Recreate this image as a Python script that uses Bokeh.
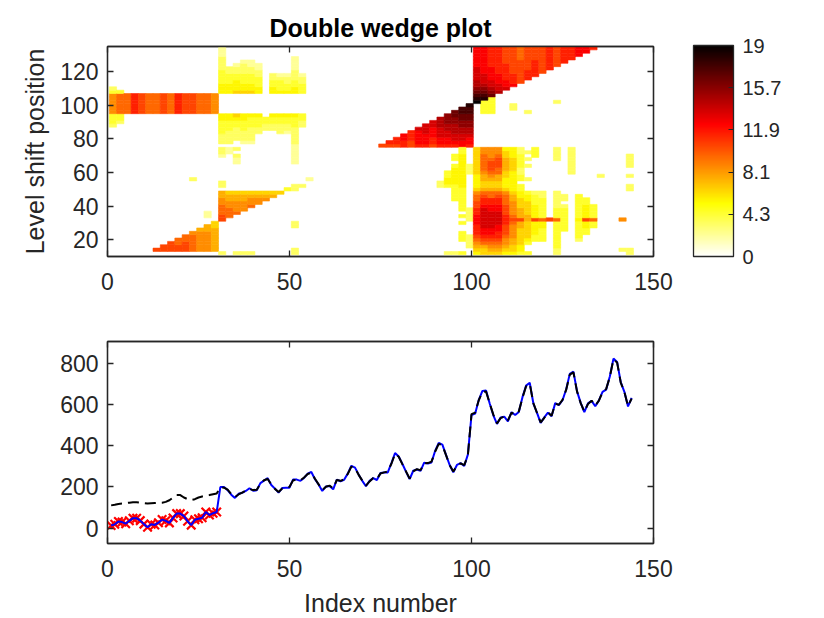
from bokeh.plotting import figure
from bokeh.models import (ColumnDataSource, LinearColorMapper, ColorBar, FixedTicker,
                          LinearAxis, Range1d)
from bokeh.layouts import column
from bokeh.embed import file_html
from bokeh.resources import INLINE

# ---------------- data ----------------
index_ticks = [0, 50, 100, 150]
shift_ticks = [20, 40, 60, 80, 100, 120]
level_ticks = [0, 200, 400, 600, 800]
cbar_tick_pos = [0, 3.8, 7.6, 11.4, 15.2, 19]
cbar_tick_labels = ["0", "4.3", "8.1", "11.9", "15.7", "19"]

index_number = list(range(1, 145))

y_obs = [12, 18, 32, 29, 21, 35, 48, 48, 36, 19, 4, 18,
         15, 26, 41, 35, 25, 49, 70, 70, 58, 33, 14, 40,
         45, 50, 78, 63, 72, 78, 199, 199, 184, 162, 146, 166,
         171, 180, 193, 181, 183, 218, 230, 242, 209, 191, 172, 194,
         196, 196, 236, 235, 229, 243, 264, 272, 237, 211, 180, 201,
         204, 188, 235, 227, 234, 264, 302, 293, 259, 229, 203, 229,
         242, 233, 267, 269, 270, 315, 364, 347, 312, 274, 237, 278,
         284, 277, 317, 313, 318, 374, 413, 405, 355, 306, 271, 306,
         315, 301, 356, 548, 555, 622, 665, 667, 604, 547, 505, 536,
         540, 518, 562, 548, 563, 635, 691, 705, 604, 559, 510, 537,
         560, 542, 606, 596, 620, 672, 748, 759, 663, 607, 562, 605,
         617, 591, 619, 661, 672, 735, 822, 806, 708, 661, 590, 632]

y_fit = [110, 113, 117, 119, 121, 123, 125, 125, 123, 121, 119, 120,
         121, 122, 123, 127, 135, 148, 160, 160, 148, 140, 136, 140,
         148, 153, 157, 160, 164, 168, 197, 196, 186, 165, 150, 163,
         172, 182, 190, 184, 186, 214, 232, 238, 211, 190, 175, 192,
         198, 200, 232, 233, 231, 245, 262, 268, 239, 212, 184, 200,
         206, 193, 233, 229, 236, 262, 298, 292, 258, 230, 206, 226,
         243, 238, 265, 270, 274, 312, 360, 346, 310, 275, 240, 275,
         286, 281, 314, 315, 322, 370, 408, 402, 354, 305, 274, 302,
         314, 305, 352, 553, 560, 620, 660, 662, 605, 550, 508, 533,
         541, 522, 560, 550, 566, 632, 688, 700, 606, 558, 513, 535,
         561, 545, 603, 598, 622, 670, 744, 755, 662, 606, 565, 602,
         618, 594, 618, 660, 675, 733, 818, 803, 706, 660, 592, 628]

outlier_idx = [1, 2, 3, 4, 5, 6, 7, 8, 9, 10, 11, 12, 13, 14, 15,
               16, 17, 18, 19, 20, 21, 22, 23, 24, 25, 26, 27, 28, 29, 30]

# Heat-map cells: (column bin, first row bin, values upward; base-36 digit, '.' = empty)
# column bin c holds index numbers 2c+1, 2c+2 ; row bin r holds positions 11+2r .. 13+2r
wedge_segments = [
    (0, 38, "344488888843"), (1, 39, "3449999994"),
    (2, 42, "999999"), (3, 42, "bbbbbb"), (4, 42, "aaaaaa"), (5, 42, "999999"),
    (6, 42, "999999"), (7, 42, "aaaaaa"), (8, 42, "999999"), (9, 42, "bbbbbb"),
    (10, 42, "aaaaaa"), (11, 42, "aaaaaa"), (12, 42, "999999"), (13, 42, "999999"),
    (14, 42, "888888"),
    (6, 1, "a"), (7, 1, "aa"), (8, 1, "aaa"), (9, 1, "aa99"), (10, 1, "aaa99"),
    (11, 1, "999998"), (12, 1, "8888887"), (13, 1, "88888877"), (14, 1, "777777766"),
    (15, 10, "aa9998877"), (16, 11, "99988776"), (17, 12, "9888776"), (18, 13, "888776"),
    (19, 14, "98876"), (20, 15, "8876"), (21, 16, "876"), (22, 17, "76"), (23, 18, "6"),
    (24, 19, "4"), (25, 19, "33"), (26, 20, "3"), (27, 22, "2"),
    (15, 48, "55544443333222"), (16, 48, "55544433"), (17, 48, "655544332"),
    (18, 48, "6554443332"), (19, 48, "6554443322"), (20, 48, "554443322"),
    (22, 48, "554433"), (23, 48, "544432"), (24, 48, "544332"),
    (25, 48, "55443332222"), (26, 48, "444332"),
    (15, 29, "233.333444455"), (16, 30, "22.333344455"), (17, 27, "223.3..33334456"),
    (18, 33, "233344455"), (19, 33, "233334445"), (20, 36, "334445"), (21, 37, "3344"),
    (22, 37, "33445"), (23, 36, "333445"), (24, 36, "233445"),
    (25, 27, "222222333334445"), (26, 38, "3344"),
    (11, 22, "3"), (15, 20, "33"), (13, 11, "22"), (25, 8, "33"), (15, 0, "3"),
    (17, 0, "3"), (18, 0, "3"), (19, 0, "3"), (25, 0, "33"),
    (37, 32, "a"), (38, 32, "ab"), (39, 32, "abb"), (40, 32, "bbcc"), (41, 32, "aabbb"),
    (42, 32, "bccccd"), (43, 32, "bcccddd"), (44, 32, "abbcccdd"), (45, 32, "bccdddeee"),
    (46, 32, "bccddeefff"), (47, 32, "bcddeeeffgg"), (48, 32, "ccddeeffgghh"),
    (49, 32, "bccdeeffgghhi"),
    (45, 20, "33"), (46, 0, "3"), (46, 20, "45544"), (47, 0, "3"),
    (47, 16, "44444555554.44"), (48, 0, "4...444..4.4.4444444555555555544"),
    (49, 2, "3333"), (49, 10, "3333"), (49, 24, "333"),
    (50, 0, "56789abbbcccbbaa9986555566666666"),
    (51, 0, "6679abccddddddcbba97667789999988"),
    (52, 0, "6789abccdddddccbb99766789aaa9888"),
    (53, 0, "6789abbccddddccbba97667799aaa988"),
    (54, 0, "567889aaabbbaaa99986555667777665"),
    (55, 0, "5667788889a988887765555556666555"),
    (56, 0, "4556666677a7776665544.4433444433"),
    (57, 0, "4..4566666776666554...3...3.3.3."),
    (58, 0, "....445555a55554443..........444"),
    (59, 4, "444455944444433"), (60, 10, "a"), (61, 0, "3344444444944433333"),
    (61, 28, "3333"),
    (62, 7, "44444443.33"), (63, 24, "33333333"), (64, 4, "34444454444444"),
    (65, 6, "4455a555544"), (66, 8, "4494444"), (67, 23, "3"), (70, 1, "3"),
    (70, 10, "8"), (71, 0, "33"), (71, 19, "33"), (71, 23, "3"), (71, 26, "3333"),
    (51, 42, "4444"), (52, 42, "44444"), (55, 43, "33"), (57, 42, "3"), (61, 45, "3"),
    (50, 45, "jihgfeeddddcccccc"), (51, 46, "ihgfedddcccccccc"), (52, 47, "gfeddccccbbbbbb"),
    (53, 48, "eddcccbbbbbbbb"), (54, 49, "dccbbbbbaaaaa"), (55, 50, "cbbbaaaaaaaa"),
    (56, 51, "aaaaaaa9999"), (57, 52, "bbbaaaaaaa"), (58, 53, "bbbbbaaaa"),
    (59, 54, "aaaaaaaa"), (60, 55, "bbbbbbb"), (61, 56, "aaaaaa"), (62, 57, "bbbbb"),
    (63, 58, "bbbb"), (64, 59, "ccc"), (65, 60, "cc"), (66, 61, "b"),
]

# ---------------- style ----------------
FONT = "Liberation Sans"
AX = "#262626"


def hot_reversed(m=256):
    n = int(3 * m / 8)
    out = []
    for i in range(m):
        r = (i + 1) / n if i < n else 1.0
        g = 0.0 if i < n else ((i - n + 1) / n if i < 2 * n else 1.0)
        b = 0.0 if i < 2 * n else (i - 2 * n + 1) / (m - 2 * n)
        out.append("#%02x%02x%02x" % (round(r * 255), round(g * 255), round(b * 255)))
    return out[::-1]


palette = hot_reversed()
mapper = LinearColorMapper(palette=palette, low=0, high=19)


def style_axis(ax, ticks):
    ax.ticker = FixedTicker(ticks=ticks)
    ax.major_tick_in = 6
    ax.major_tick_out = 0
    ax.minor_tick_line_color = None
    ax.axis_line_color = AX
    ax.axis_line_width = 1.3
    ax.major_tick_line_color = AX
    ax.major_tick_line_width = 1.3
    ax.major_label_text_font = FONT
    ax.major_label_text_color = AX
    ax.major_label_text_font_size = "23px"
    ax.axis_label_text_font = FONT
    ax.axis_label_text_font_size = "25px"
    ax.axis_label_text_font_style = "normal"
    ax.axis_label_text_color = AX


def mirror_axis(ticks):
    # box-side axis: inward tick marks only (drawn as minor ticks, so no labels)
    ax = LinearAxis(ticker=FixedTicker(ticks=[], minor_ticks=ticks))
    ax.axis_line_color = AX
    ax.axis_line_width = 1.3
    ax.major_tick_line_color = None
    ax.major_tick_in = 0
    ax.major_tick_out = 0
    ax.minor_tick_in = 6
    ax.minor_tick_out = 0
    ax.minor_tick_line_color = AX
    ax.minor_tick_line_width = 1.3
    return ax


def make_fig(yr, fh, top, bottom):
    p = figure(frame_width=546, frame_height=fh, x_range=Range1d(0, 150), y_range=yr,
               output_backend="svg", toolbar_location=None,
               min_border_left=107, min_border_right=140, min_border_top=top,
               min_border_bottom=bottom)
    p.grid.visible = False
    p.outline_line_color = AX
    p.outline_line_width = 1.3
    p.background_fill_color = "white"
    p.border_fill_color = "white"
    return p


# ---------------- top: double wedge heat map ----------------
left, right, bottom, top, val = [], [], [], [], []
for col, row0, vals in wedge_segments:
    for k, ch in enumerate(vals):
        if ch == ".":
            continue
        r = row0 + k
        left.append(0.5 + 2 * col)
        right.append(2.5 + 2 * col)
        bottom.append(11 + 2 * r)
        top.append(13 + 2 * r)
        val.append(int(ch, 36))
cells = ColumnDataSource(dict(left=left, right=right, bottom=bottom, top=top, v=val))

p1 = make_fig(Range1d(10, 135), 210, 46, 45)
p1.title.text = "Double wedge plot"
p1.title.text_font = FONT
p1.title.text_font_size = "25px"
p1.title.text_font_style = "bold"
p1.title.align = "center"
p1.title.text_color = "black"
p1.title.standoff = 10

p1.quad(left="left", right="right", bottom="bottom", top="top", source=cells,
        fill_color={"field": "v", "transform": mapper},
        line_color={"field": "v", "transform": mapper}, line_width=0.6)

style_axis(p1.xaxis[0], index_ticks)
p1.xaxis[0].major_label_standoff = 16
style_axis(p1.yaxis[0], shift_ticks)
p1.yaxis[0].major_label_standoff = 9
p1.yaxis[0].axis_label = "Level shift position"
p1.yaxis[0].axis_label_standoff = 8

p1.add_layout(mirror_axis(index_ticks), "above")
p1.add_layout(mirror_axis(shift_ticks), "right")

cbar = ColorBar(color_mapper=mapper, ticker=FixedTicker(ticks=cbar_tick_pos),
                major_label_overrides={t: s for t, s in zip(cbar_tick_pos, cbar_tick_labels)},
                width=40, height=211, padding=0, margin=0, label_standoff=9,
                location=(586, 0),
                major_label_text_font=FONT, major_label_text_font_size="20px",
                major_label_text_color=AX, major_tick_line_color=AX,
                major_tick_in=5, major_tick_out=0, minor_tick_line_color=None,
                bar_line_color=AX, bar_line_width=1.3,
                background_fill_color=None, border_line_color=None)
p1.add_layout(cbar, "center")

# ---------------- bottom: series ----------------
p2 = make_fig(Range1d(-75, 905), 202, 40, 66)

p2.scatter(x=outlier_idx, y=[y_obs[i - 1] for i in outlier_idx], marker="x", size=12,
           line_color="red", line_width=2.2)
p2.line(index_number, y_obs, line_color="blue", line_width=2)
p2.line(index_number, y_fit, line_color="black", line_width=2, line_dash="11 6")

style_axis(p2.xaxis[0], index_ticks)
p2.xaxis[0].major_label_standoff = 16
p2.xaxis[0].axis_label = "Index number"
p2.xaxis[0].axis_label_standoff = 9
style_axis(p2.yaxis[0], level_ticks)
p2.yaxis[0].major_label_standoff = 9

p2.add_layout(mirror_axis(index_ticks), "above")
p2.add_layout(mirror_axis(level_ticks), "right")

layout = column(p1, p2)
open("out.html", "w").write(file_html(layout, INLINE))
